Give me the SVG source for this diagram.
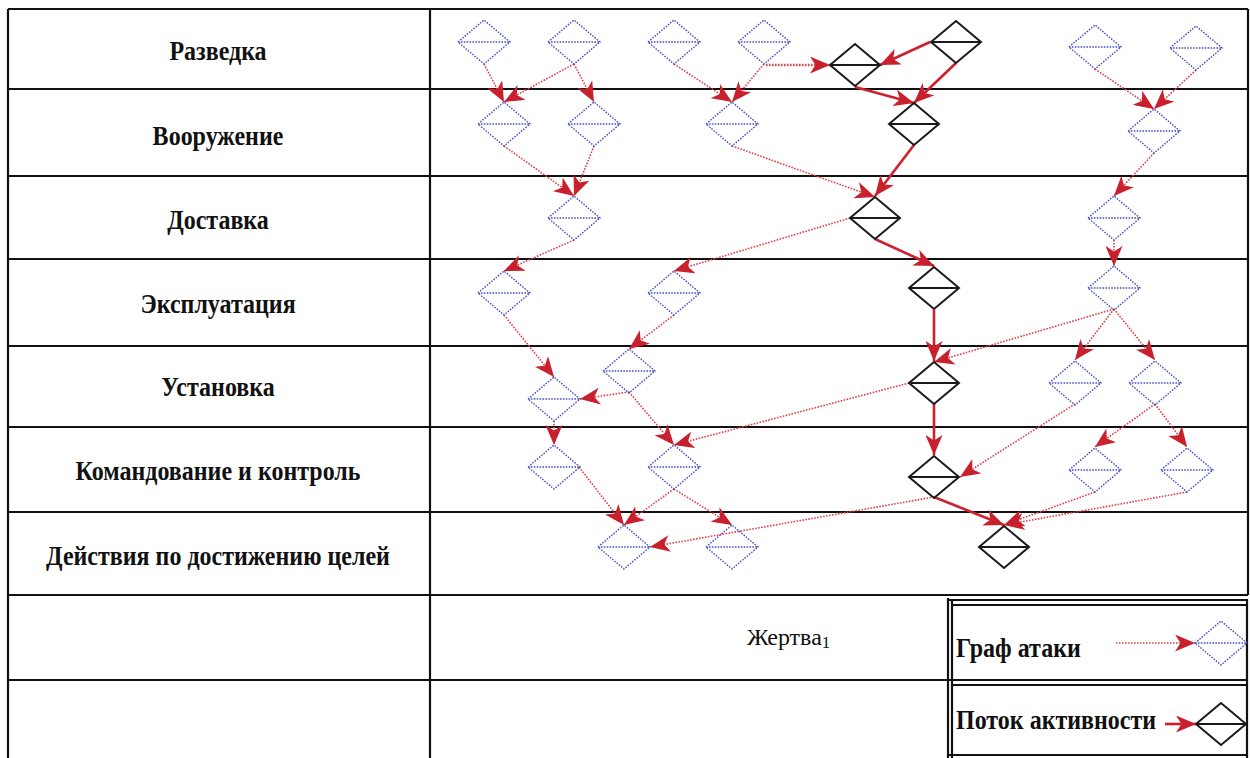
<svg xmlns="http://www.w3.org/2000/svg" width="1250" height="758" viewBox="0 0 1250 758">
<style>
.grid{stroke:#111;stroke-width:2.2;fill:none}
.lbl{font-family:"Liberation Serif","Times New Roman",serif;font-weight:bold;font-size:24px;fill:#111}
.reg{font-family:"Liberation Serif","Times New Roman",serif;font-size:24px;fill:#111}
.bd{fill:none;stroke:#4a52c4;stroke-width:1.4;stroke-dasharray:1.6 1.3}
.kd{fill:none;stroke:#1a1a1a;stroke-width:2}
.ea{fill:none;stroke:#e0404c;stroke-width:1.6;stroke-dasharray:1.6 1.4;marker-end:url(#ah)}
.ea2{fill:none;stroke:#e0404c;stroke-width:2.6;stroke-dasharray:1.6 1.4;marker-end:url(#ah)}
.ef{fill:none;stroke:#d0202e;stroke-width:2.6;marker-end:url(#ah)}
</style>
<defs>
<marker id="ah" markerUnits="userSpaceOnUse" markerWidth="21" markerHeight="17" refX="20" refY="8.5" orient="auto">
<path d="M0,0 L20,8.5 L0,17 L5.5,8.5 Z" fill="#c8202c"/>
</marker>
<g id="bdm"><path class="bd" d="M-26,0 L0,-22 L26,0 L0,22 Z M-26,0 H26"/></g>
<g id="kdm"><path class="kd" d="M-25,0 L0,-21 L25,0 L0,21 Z M-25,0 H25"/></g>
</defs>
<g id="table">
<path class="grid" d="M8,9 H1248 M8,89 H1248 M8,176 H1248 M8,259 H1248 M8,346 H1248 M8,427 H1248 M8,512 H1248 M8,595 H1248 M8,680 H948 M8,9 V758 M430,9 V758 M1248,9 V595"/>
</g>
<g id="labels">
<text class="lbl" text-anchor="middle" transform="translate(218,60) scale(1,1.15)">Разведка</text>
<text class="lbl" text-anchor="middle" transform="translate(218,145) scale(1,1.15)">Вооружение</text>
<text class="lbl" text-anchor="middle" transform="translate(218,229) scale(1,1.15)">Доставка</text>
<text class="lbl" text-anchor="middle" transform="translate(218,313) scale(1,1.15)">Эксплуатация</text>
<text class="lbl" text-anchor="middle" transform="translate(218,396) scale(1,1.15)">Установка</text>
<text class="lbl" text-anchor="middle" transform="translate(218,480) scale(1,1.15)">Командование и контроль</text>
<text class="lbl" text-anchor="middle" transform="translate(218,565) scale(1,1.15)">Действия по достижению целей</text>
<text class="reg" x="747" y="645">Жертва<tspan font-size="17" dy="3">1</tspan></text>
</g>
<g id="connectors">
<path class="ea" d="M484,64 L504,102"/>
<path class="ea" d="M574,64 L504,102"/>
<path class="ea" d="M574,64 L594,102"/>
<path class="ea" d="M674,64 L732,102"/>
<path class="ea" d="M764,64 L732,102"/>
<path class="ea2" d="M766,65 L830,65"/>
<path class="ef" d="M930,42 L880,65"/>
<path class="ef" d="M956,63 L914,103"/>
<path class="ef" d="M855,87 L914,103"/>
<path class="ea" d="M1095,69 L1154,109"/>
<path class="ea" d="M1196,70 L1154,109"/>
<path class="ea" d="M504,146 L574,196"/>
<path class="ea" d="M594,146 L574,196"/>
<path class="ea" d="M732,146 L875,197"/>
<path class="ef" d="M914,145 L875,196"/>
<path class="ea" d="M1154,153 L1114,196"/>
<path class="ea" d="M574,240 L504,271"/>
<path class="ea" d="M850,218 L674,271"/>
<path class="ef" d="M875,239 L934,266"/>
<path class="ea" d="M1114,240 L1114,266"/>
<path class="ea" d="M504,315 L554,377"/>
<path class="ea" d="M674,315 L629,349"/>
<path class="ef" d="M934,310 L934,361"/>
<path class="ea" d="M1114,309 L934,362"/>
<path class="ea" d="M1114,309 L1075,360"/>
<path class="ea" d="M1114,309 L1155,360"/>
<path class="ea" d="M629,392 L580,399"/>
<path class="ea" d="M554,421 L554,445"/>
<path class="ea" d="M629,392 L674,445"/>
<path class="ea" d="M909,383 L674,445"/>
<path class="ef" d="M934,404 L934,455"/>
<path class="ea" d="M1075,404 L960,477"/>
<path class="ea" d="M1155,404 L1095,447"/>
<path class="ea" d="M1155,404 L1187,447"/>
<path class="ea" d="M579,467 L624,525"/>
<path class="ea" d="M674,489 L624,525"/>
<path class="ea" d="M674,489 L732,525"/>
<path class="ea" d="M934,497 L650,547"/>
<path class="ef" d="M934,497 L1004,525"/>
<path class="ea" d="M1095,492 L1004,525"/>
<path class="ea" d="M1187,492 L1004,525"/>
</g>
<g id="B1"><use href="#bdm" x="484" y="42"/></g>
<g id="B2"><use href="#bdm" x="574" y="42"/></g>
<g id="B3"><use href="#bdm" x="674" y="42"/></g>
<g id="B4"><use href="#bdm" x="764" y="42"/></g>
<g id="K1"><use href="#kdm" x="855" y="65"/></g>
<g id="K2"><use href="#kdm" x="956" y="42"/></g>
<g id="B5"><use href="#bdm" x="1095" y="47"/></g>
<g id="B6"><use href="#bdm" x="1196" y="48"/></g>
<g id="B7"><use href="#bdm" x="504" y="124"/></g>
<g id="B8"><use href="#bdm" x="594" y="124"/></g>
<g id="B9"><use href="#bdm" x="732" y="124"/></g>
<g id="K3"><use href="#kdm" x="914" y="124"/></g>
<g id="B10"><use href="#bdm" x="1154" y="131"/></g>
<g id="B11"><use href="#bdm" x="574" y="218"/></g>
<g id="K4"><use href="#kdm" x="875" y="218"/></g>
<g id="B12"><use href="#bdm" x="1114" y="218"/></g>
<g id="B13"><use href="#bdm" x="504" y="293"/></g>
<g id="B14"><use href="#bdm" x="674" y="293"/></g>
<g id="K5"><use href="#kdm" x="934" y="288"/></g>
<g id="B15"><use href="#bdm" x="1114" y="288"/></g>
<g id="B16"><use href="#bdm" x="629" y="371"/></g>
<g id="B17"><use href="#bdm" x="554" y="399"/></g>
<g id="K6"><use href="#kdm" x="934" y="383"/></g>
<g id="B18"><use href="#bdm" x="1075" y="383"/></g>
<g id="B19"><use href="#bdm" x="1155" y="383"/></g>
<g id="B20"><use href="#bdm" x="554" y="467"/></g>
<g id="B21"><use href="#bdm" x="674" y="467"/></g>
<g id="K7"><use href="#kdm" x="934" y="477"/></g>
<g id="B22"><use href="#bdm" x="1095" y="470"/></g>
<g id="B23"><use href="#bdm" x="1187" y="470"/></g>
<g id="B24"><use href="#bdm" x="624" y="547"/></g>
<g id="B25"><use href="#bdm" x="732" y="547"/></g>
<g id="K8"><use href="#kdm" x="1004" y="547"/></g>
<g id="legend">
<path class="grid" d="M948,598 V758 M952,600 V758 M948,600 H1248 M952,605 H1248 M948,680 H1248 M952,685 H1248 M948,755 H1248 M1247,600 V758" stroke-width="1.6"/>
<text class="lbl" transform="translate(956,657) scale(1,1.15)">Граф атаки</text>
<text class="lbl" transform="translate(956,729) scale(1,1.15)">Поток активности</text>
<path class="ea" d="M1116,643 L1195,643"/>
<use href="#bdm" x="1221" y="643"/>
<path class="ef" d="M1165,724 L1196,724"/>
<use href="#kdm" x="1221" y="724"/>
</g>
</svg>
